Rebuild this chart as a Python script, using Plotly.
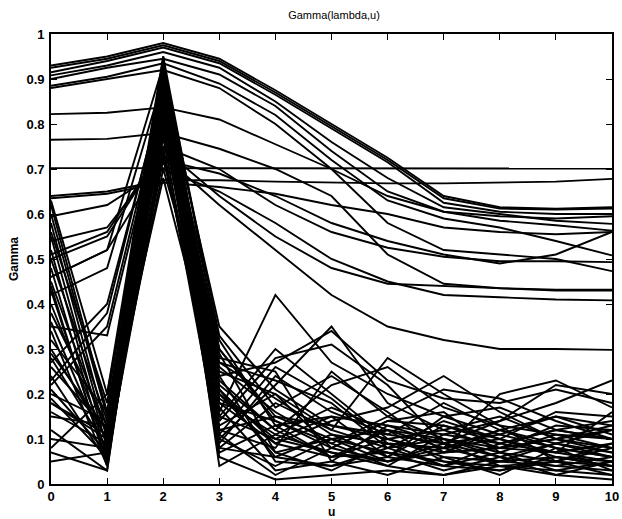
import plotly.graph_objects as go

u = [0, 1, 2, 3, 4, 5, 6, 7, 8, 9, 10]

# smooth high group
high_lines = [
    [0.930, 0.950, 0.980, 0.945, 0.875, 0.800, 0.725, 0.640, 0.615, 0.612, 0.615],
    [0.925, 0.945, 0.975, 0.940, 0.870, 0.795, 0.720, 0.635, 0.612, 0.610, 0.612],
    [0.915, 0.940, 0.970, 0.935, 0.865, 0.790, 0.715, 0.625, 0.605, 0.600, 0.600],
    [0.908, 0.930, 0.960, 0.925, 0.850, 0.760, 0.680, 0.615, 0.600, 0.585, 0.578],
    [0.900, 0.925, 0.945, 0.910, 0.840, 0.740, 0.650, 0.605, 0.585, 0.575, 0.563],
    [0.885, 0.905, 0.935, 0.890, 0.820, 0.720, 0.630, 0.590, 0.570, 0.540, 0.508],
    [0.880, 0.900, 0.920, 0.880, 0.800, 0.700, 0.580, 0.520, 0.510, 0.500, 0.473],
]

# smooth middle group
mid_lines = [
    [0.822, 0.825, 0.837, 0.810, 0.755, 0.700, 0.640, 0.605, 0.595, 0.590, 0.595],
    [0.765, 0.767, 0.780, 0.745, 0.700, 0.640, 0.510, 0.445, 0.435, 0.432, 0.432],
    [0.702, 0.702, 0.702, 0.702, 0.702, 0.702, 0.702, 0.702, 0.701, 0.701, 0.701],
    [0.640, 0.650, 0.675, 0.675, 0.672, 0.670, 0.668, 0.668, 0.670, 0.672, 0.678],
    [0.635, 0.645, 0.670, 0.660, 0.645, 0.620, 0.600, 0.570, 0.560, 0.555, 0.560],
    [0.595, 0.620, 0.700, 0.650, 0.580, 0.500, 0.450, 0.420, 0.415, 0.410, 0.408],
    [0.540, 0.570, 0.730, 0.620, 0.520, 0.420, 0.350, 0.320, 0.300, 0.300, 0.298],
    [0.500, 0.550, 0.745, 0.640, 0.550, 0.480, 0.445, 0.440, 0.435, 0.430, 0.430],
    [0.510, 0.560, 0.750, 0.700, 0.620, 0.560, 0.525, 0.505, 0.495, 0.495, 0.493],
    [0.460, 0.520, 0.720, 0.690, 0.640, 0.580, 0.540, 0.510, 0.490, 0.510, 0.560],
]

# spiky group
spike_lines = [
    [0.63, 0.20, 0.95, 0.30, 0.15, 0.10, 0.12, 0.08, 0.10, 0.06, 0.05],
    [0.60, 0.15, 0.93, 0.25, 0.20, 0.12, 0.08, 0.10, 0.07, 0.05, 0.04],
    [0.58, 0.12, 0.92, 0.22, 0.12, 0.06, 0.10, 0.12, 0.08, 0.10, 0.07],
    [0.55, 0.10, 0.91, 0.20, 0.10, 0.15, 0.06, 0.04, 0.09, 0.12, 0.10],
    [0.52, 0.08, 0.90, 0.18, 0.14, 0.08, 0.05, 0.07, 0.12, 0.08, 0.03],
    [0.50, 0.14, 0.89, 0.28, 0.25, 0.05, 0.13, 0.09, 0.06, 0.04, 0.06],
    [0.48, 0.06, 0.88, 0.15, 0.30, 0.20, 0.10, 0.06, 0.05, 0.09, 0.12],
    [0.45, 0.11, 0.87, 0.12, 0.08, 0.25, 0.15, 0.10, 0.08, 0.07, 0.09],
    [0.43, 0.05, 0.86, 0.10, 0.22, 0.35, 0.18, 0.12, 0.15, 0.10, 0.08],
    [0.40, 0.09, 0.85, 0.08, 0.18, 0.12, 0.28, 0.20, 0.13, 0.11, 0.10],
    [0.38, 0.13, 0.84, 0.24, 0.05, 0.04, 0.08, 0.14, 0.10, 0.16, 0.15],
    [0.36, 0.07, 0.83, 0.14, 0.28, 0.31, 0.22, 0.09, 0.04, 0.05, 0.02],
    [0.34, 0.04, 0.82, 0.06, 0.01, 0.02, 0.03, 0.02, 0.04, 0.03, 0.02],
    [0.32, 0.16, 0.81, 0.26, 0.16, 0.09, 0.04, 0.11, 0.14, 0.22, 0.20],
    [0.30, 0.10, 0.80, 0.19, 0.11, 0.17, 0.12, 0.05, 0.03, 0.06, 0.04],
    [0.28, 0.08, 0.79, 0.16, 0.42, 0.27, 0.20, 0.15, 0.11, 0.08, 0.06],
    [0.26, 0.12, 0.78, 0.21, 0.09, 0.14, 0.17, 0.24, 0.16, 0.10, 0.13],
    [0.24, 0.05, 0.77, 0.11, 0.26, 0.19, 0.09, 0.08, 0.20, 0.23, 0.17],
    [0.23, 0.38, 0.88, 0.32, 0.13, 0.06, 0.07, 0.03, 0.06, 0.02, 0.05],
    [0.22, 0.35, 0.86, 0.29, 0.07, 0.10, 0.05, 0.08, 0.05, 0.04, 0.03],
    [0.21, 0.07, 0.75, 0.09, 0.24, 0.16, 0.11, 0.18, 0.12, 0.15, 0.11],
    [0.20, 0.14, 0.74, 0.13, 0.20, 0.08, 0.14, 0.13, 0.09, 0.07, 0.16],
    [0.19, 0.06, 0.73, 0.17, 0.03, 0.05, 0.02, 0.06, 0.02, 0.08, 0.06],
    [0.18, 0.11, 0.72, 0.23, 0.12, 0.22, 0.26, 0.17, 0.13, 0.05, 0.09],
    [0.16, 0.09, 0.70, 0.27, 0.19, 0.11, 0.06, 0.15, 0.17, 0.12, 0.14],
    [0.15, 0.13, 0.68, 0.20, 0.07, 0.03, 0.09, 0.04, 0.07, 0.11, 0.08],
    [0.12, 0.03, 0.90, 0.04, 0.11, 0.07, 0.04, 0.02, 0.05, 0.06, 0.04],
    [0.10, 0.08, 0.92, 0.12, 0.15, 0.13, 0.10, 0.07, 0.08, 0.13, 0.12],
    [0.08, 0.20, 0.88, 0.18, 0.09, 0.06, 0.12, 0.10, 0.06, 0.09, 0.07],
    [0.07, 0.03, 0.85, 0.10, 0.04, 0.10, 0.07, 0.05, 0.04, 0.02, 0.01],
    [0.42, 0.48, 0.90, 0.35, 0.21, 0.13, 0.11, 0.09, 0.14, 0.18, 0.23],
    [0.46, 0.52, 0.93, 0.33, 0.17, 0.24, 0.16, 0.07, 0.08, 0.10, 0.12],
    [0.27, 0.40, 0.87, 0.30, 0.14, 0.09, 0.15, 0.21, 0.19, 0.14, 0.10],
    [0.35, 0.33, 0.84, 0.27, 0.23, 0.18, 0.08, 0.04, 0.03, 0.05, 0.08],
    [0.56, 0.18, 0.94, 0.24, 0.27, 0.34, 0.23, 0.19, 0.18, 0.21, 0.18],
    [0.62, 0.16, 0.91, 0.21, 0.06, 0.04, 0.06, 0.13, 0.10, 0.07, 0.05],
    [0.05, 0.07, 0.83, 0.07, 0.13, 0.15, 0.13, 0.11, 0.09, 0.12, 0.10],
    [0.18, 0.10, 0.89, 0.15, 0.10, 0.07, 0.05, 0.09, 0.11, 0.15, 0.13],
    [0.44, 0.04, 0.95, 0.08, 0.06, 0.11, 0.09, 0.08, 0.12, 0.09, 0.06],
    [0.29, 0.12, 0.92, 0.11, 0.02, 0.08, 0.14, 0.16, 0.07, 0.03, 0.05],
]

x_ticks = [0, 1, 2, 3, 4, 5, 6, 7, 8, 9, 10]
y_ticks = [0, 0.1, 0.2, 0.3, 0.4, 0.5, 0.6, 0.7, 0.8, 0.9, 1]
y_tick_labels = ["0", "0.1", "0.2", "0.3", "0.4", "0.5", "0.6", "0.7", "0.8", "0.9", "1"]

FONT = "Liberation Sans, Arial, Helvetica"

fig = go.Figure()
for series in high_lines + mid_lines + spike_lines:
    fig.add_trace(go.Scatter(x=u, y=series, mode="lines",
                             line=dict(color="black", width=1.9),
                             showlegend=False, hoverinfo="skip"))

axis_common = dict(showline=True, linecolor="black", linewidth=1.6,
                   mirror="allticks", ticks="inside", ticklen=6,
                   tickcolor="black", tickwidth=1.3, showgrid=False,
                   zeroline=False, automargin=False,
                   ticklabeloverflow="allow",
                   tickfont=dict(family=FONT, size=13,
                                 color="black", weight="bold"))

fig.update_xaxes(range=[0, 10], tickvals=x_ticks, ticktext=[str(t) for t in x_ticks],
                 **axis_common)
fig.update_yaxes(range=[0, 1], tickvals=y_ticks, ticktext=y_tick_labels,
                 ticklabelstandoff=2,
                 title=dict(text="Gamma", standoff=5,
                            font=dict(family=FONT, size=12, color="black", weight="bold")),
                 **axis_common)

fig.add_annotation(text="u", xref="paper", yref="paper", x=0.5, y=-0.062,
                   xanchor="center", yanchor="middle", showarrow=False,
                   font=dict(family=FONT, size=12, color="black", weight="bold"))

fig.update_layout(
    width=622, height=519,
    margin=dict(l=51, r=10, t=34, b=35),
    paper_bgcolor="white", plot_bgcolor="white",
    title=dict(text="Gamma(lambda,u)", x=334 / 622, xanchor="center",
               y=1 - 15 / 519, yanchor="middle",
               font=dict(family=FONT, size=11, color="black")),
)

fig.write_html("out.html",
               config={"displayModeBar": False},
               post_script="document.body.style.margin='0';document.body.style.padding='0';")
